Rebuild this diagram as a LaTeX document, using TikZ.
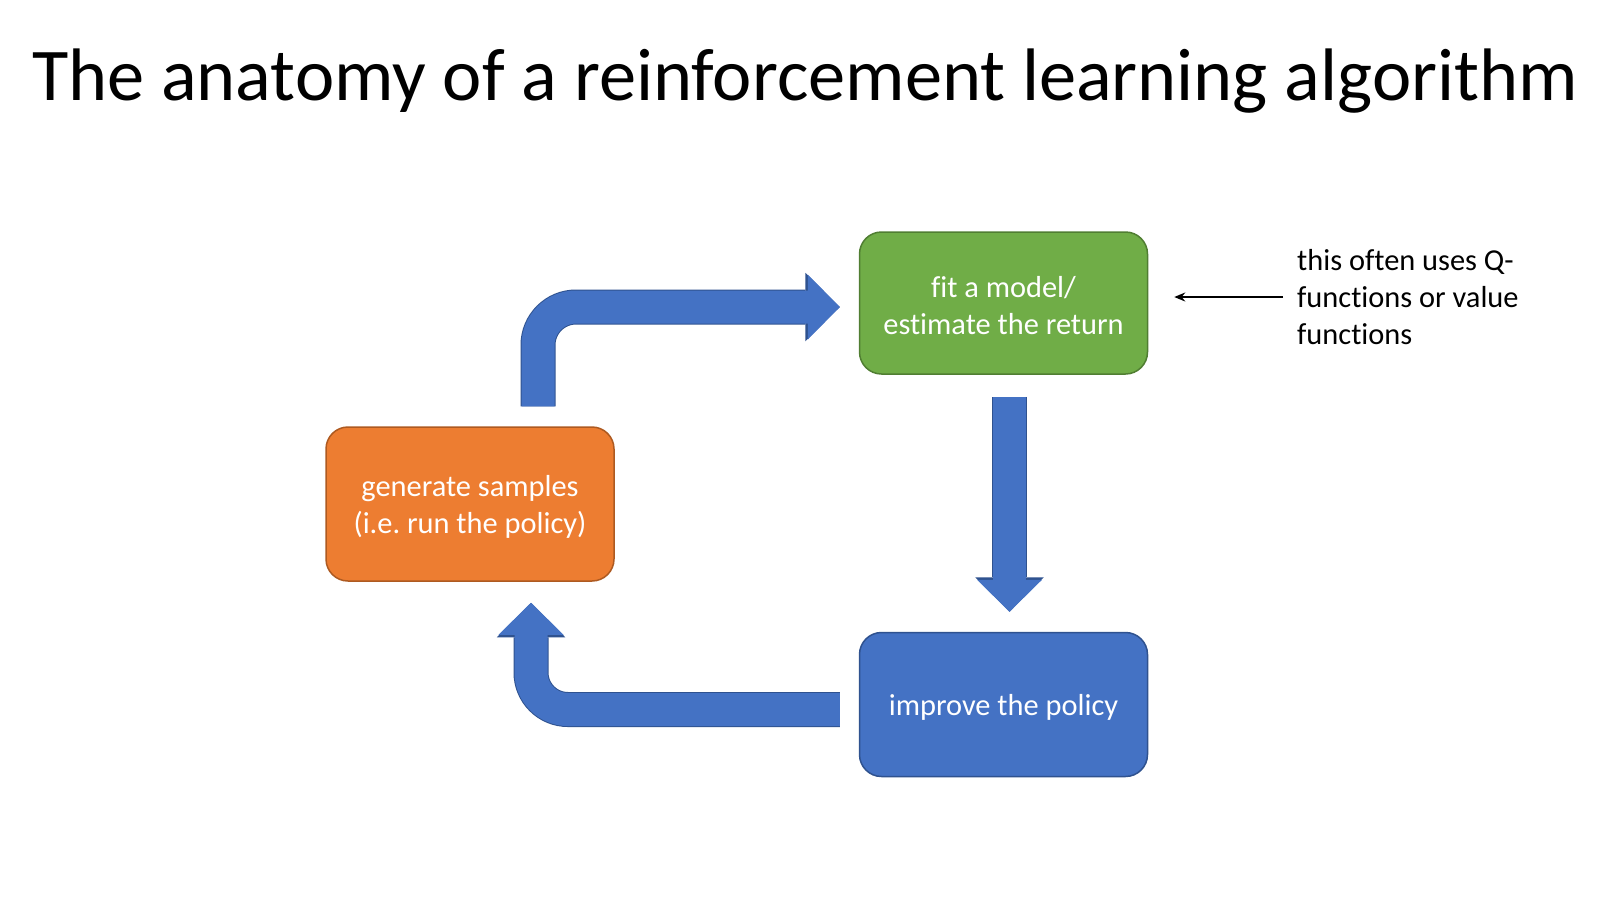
\documentclass[tikz,border=0pt]{standalone}
\usepackage{fontspec}
\setmainfont{Carlito}[Ligatures=NoCommon]
\frenchspacing
\usetikzlibrary{arrows.meta,positioning,calc}
\definecolor{fitgreen}{HTML}{70AD47}
\definecolor{fitedge}{HTML}{507E32}
\definecolor{genorange}{HTML}{ED7D31}
\definecolor{genedge}{HTML}{AE5A21}
\definecolor{impblue}{HTML}{4472C4}
\definecolor{impedge}{HTML}{2F528F}
\newcommand{\boxstrut}{\rule{0pt}{27pt}}

\begin{document}
\begin{tikzpicture}[x=1pt,y=-1pt,
    box/.style={rectangle, rounded corners=22pt, minimum width=288pt, line width=1.5pt,
                text=white, align=center, font=\fontsize{30.4}{37}\selectfont},
    bigarrow/.style={line width=33pt, draw=impblue,
                -{Triangle[length=32pt 0 0, width=65pt 0 0, line width=0pt 0 0]},
                preaction={draw=impedge, line width=35pt,
                -{Triangle[length=34.5pt 0 0, width=68.5pt 0 0, line width=0pt 0 0]}}},
    pointer/.style={line width=2.4pt, -{Stealth[length=11pt 0 0, width=9pt 0 0]}}]
  \fill[white] (0,0) rectangle (1619,898);
  \useasboundingbox (0,0) rectangle (1619,898);
  \node[anchor=base, font=\fontsize{74.4}{88}\selectfont] (head) at (805,100)
       {The anatomy of a reinforcement learning algorithm};
  % the three steps
  \node[box, fill=genorange, draw=genedge, minimum height=154pt] (gen) at (470,504)
       {\boxstrut generate samples\\(i.e. run the policy)};
  \node[box, fill=fitgreen, draw=fitedge, minimum height=142pt] (fit) at (1003.5,303)
       {\boxstrut fit a model/\\estimate the return};
  \node[box, fill=impblue, draw=impedge, minimum height=144pt] (imp) at (1003.5,704.5)
       {\boxstrut improve the policy};
  \node[anchor=west, inner sep=0pt, align=left, font=\fontsize{30.4}{37}\selectfont] (note)
       at (1297,297) {this often uses Q-\\functions or value\\functions};
  % the loop
  \draw[bigarrow, rounded corners=38pt, shorten <=20pt, shorten >=19pt]
       ([xshift=68pt]gen.north) |- ([yshift=-4pt]fit.west);
  \draw[bigarrow, shorten <=22pt, shorten >=20pt]
       ([xshift=6pt]fit.south) -- ([xshift=6pt]imp.north);
  \draw[bigarrow, rounded corners=37pt, shorten <=19pt, shorten >=21pt]
       ([yshift=-5pt]imp.west) -| ([xshift=61pt]gen.south);
  \draw[pointer, shorten <=14pt, shorten >=26pt] (note.west) -- (note.west -| fit.east);
\end{tikzpicture}
\end{document}
